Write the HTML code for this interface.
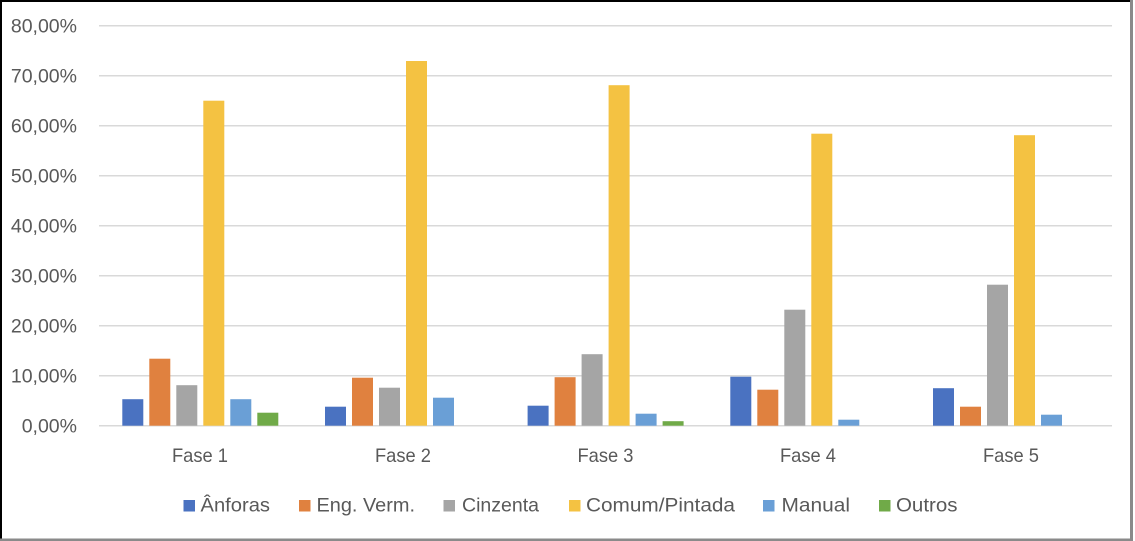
<!DOCTYPE html>
<html>
<head>
<meta charset="utf-8">
<style>
html,body{margin:0;padding:0;background:#fff;}
svg{display:block;}
text{font-family:"Liberation Sans",sans-serif;fill:#595959;}
</style>
</head>
<body>
<svg width="1135" height="541" viewBox="0 0 1135 541" xmlns="http://www.w3.org/2000/svg">
<rect x="0" y="0" width="1135" height="541" fill="#fff"/>
<!-- border -->
<rect x="0" y="0" width="1133" height="2" fill="#000"/>
<rect x="0" y="0" width="2" height="541" fill="#000"/>
<rect x="1130" y="0" width="3" height="541" fill="#8a8a8a"/>
<rect x="0" y="538.5" width="1133" height="2.5" fill="#8a8a8a"/>

<!-- gridlines -->
<g stroke="#d9d9d9" stroke-width="1.5">
<line x1="99" x2="1112" y1="25.7" y2="25.7"/>
<line x1="99" x2="1112" y1="75.7" y2="75.7"/>
<line x1="99" x2="1112" y1="125.7" y2="125.7"/>
<line x1="99" x2="1112" y1="175.7" y2="175.7"/>
<line x1="99" x2="1112" y1="225.7" y2="225.7"/>
<line x1="99" x2="1112" y1="275.7" y2="275.7"/>
<line x1="99" x2="1112" y1="325.7" y2="325.7"/>
<line x1="99" x2="1112" y1="375.7" y2="375.7"/>
<line x1="99" x2="1112" y1="425.7" y2="425.7"/>
</g>

<!-- y labels -->
<g font-size="19.5" text-anchor="end">
<text x="77" y="32.5">80,00%</text>
<text x="77" y="82.5">70,00%</text>
<text x="77" y="132.5">60,00%</text>
<text x="77" y="182.5">50,00%</text>
<text x="77" y="232.5">40,00%</text>
<text x="77" y="282.5">30,00%</text>
<text x="77" y="332.5">20,00%</text>
<text x="77" y="382.5">10,00%</text>
<text x="77" y="432.5">0,00%</text>
</g>

<!-- bars: y = 425.7 - 5v -->
<!-- Fase 1 (c=200.3) -->
<rect x="122.3" y="399.2" width="21" height="26.5" fill="#4a72c1"/>
<rect x="149.3" y="358.7" width="21" height="67" fill="#e0813f"/>
<rect x="176.3" y="385.2" width="21" height="40.5" fill="#a5a5a5"/>
<rect x="203.3" y="100.7" width="21" height="325" fill="#f4c242"/>
<rect x="230.3" y="399.2" width="21" height="26.5" fill="#6a9fd6"/>
<rect x="257.3" y="412.7" width="21" height="13" fill="#70aa48"/>
<!-- Fase 2 (c=403) -->
<rect x="325" y="406.7" width="21" height="19" fill="#4a72c1"/>
<rect x="352" y="377.7" width="21" height="48" fill="#e0813f"/>
<rect x="379" y="387.7" width="21" height="38" fill="#a5a5a5"/>
<rect x="406" y="61" width="21" height="364.7" fill="#f4c242"/>
<rect x="433" y="397.7" width="21" height="28" fill="#6a9fd6"/>
<!-- Fase 3 (c=605.6) -->
<rect x="527.6" y="405.7" width="21" height="20" fill="#4a72c1"/>
<rect x="554.6" y="377.2" width="21" height="48.5" fill="#e0813f"/>
<rect x="581.6" y="354.2" width="21" height="71.5" fill="#a5a5a5"/>
<rect x="608.6" y="85.2" width="21" height="340.5" fill="#f4c242"/>
<rect x="635.6" y="413.7" width="21" height="12" fill="#6a9fd6"/>
<rect x="662.6" y="421.2" width="21" height="4.5" fill="#70aa48"/>
<!-- Fase 4 (c=808.3) -->
<rect x="730.3" y="376.7" width="21" height="49" fill="#4a72c1"/>
<rect x="757.3" y="389.7" width="21" height="36" fill="#e0813f"/>
<rect x="784.3" y="309.7" width="21" height="116" fill="#a5a5a5"/>
<rect x="811.3" y="133.7" width="21" height="292" fill="#f4c242"/>
<rect x="838.3" y="419.7" width="21" height="6" fill="#6a9fd6"/>
<!-- Fase 5 (c=1011) -->
<rect x="933" y="388.2" width="21" height="37.5" fill="#4a72c1"/>
<rect x="960" y="406.7" width="21" height="19" fill="#e0813f"/>
<rect x="987" y="284.7" width="21" height="141" fill="#a5a5a5"/>
<rect x="1014" y="135.2" width="21" height="290.5" fill="#f4c242"/>
<rect x="1041" y="414.7" width="21" height="11" fill="#6a9fd6"/>

<!-- category labels -->
<g font-size="19.5" text-anchor="middle">
<text x="200" y="462" textLength="56" lengthAdjust="spacingAndGlyphs">Fase 1</text>
<text x="403" y="462" textLength="56" lengthAdjust="spacingAndGlyphs">Fase 2</text>
<text x="605.5" y="462" textLength="56" lengthAdjust="spacingAndGlyphs">Fase 3</text>
<text x="808" y="462" textLength="56" lengthAdjust="spacingAndGlyphs">Fase 4</text>
<text x="1011" y="462" textLength="56" lengthAdjust="spacingAndGlyphs">Fase 5</text>
</g>

<!-- legend -->
<g font-size="19.5">
<rect x="183.5" y="500" width="11.5" height="11.5" fill="#4a72c1"/>
<text x="200.5" y="511.5" textLength="69.5" lengthAdjust="spacingAndGlyphs">Ânforas</text>
<rect x="299" y="500" width="11.5" height="11.5" fill="#e0813f"/>
<text x="316.5" y="511.5" textLength="98.5" lengthAdjust="spacingAndGlyphs">Eng. Verm.</text>
<rect x="443.5" y="500" width="11.5" height="11.5" fill="#a5a5a5"/>
<text x="462" y="511.5" textLength="77" lengthAdjust="spacingAndGlyphs">Cinzenta</text>
<rect x="569" y="500" width="11.5" height="11.5" fill="#f4c242"/>
<text x="586" y="511.5" textLength="149" lengthAdjust="spacingAndGlyphs">Comum/Pintada</text>
<rect x="763" y="500" width="11.5" height="11.5" fill="#6a9fd6"/>
<text x="781.5" y="511.5" textLength="68.5" lengthAdjust="spacingAndGlyphs">Manual</text>
<rect x="879" y="500" width="11.5" height="11.5" fill="#70aa48"/>
<text x="896" y="511.5" textLength="61.5" lengthAdjust="spacingAndGlyphs">Outros</text>
</g>
</svg>
</body>
</html>
